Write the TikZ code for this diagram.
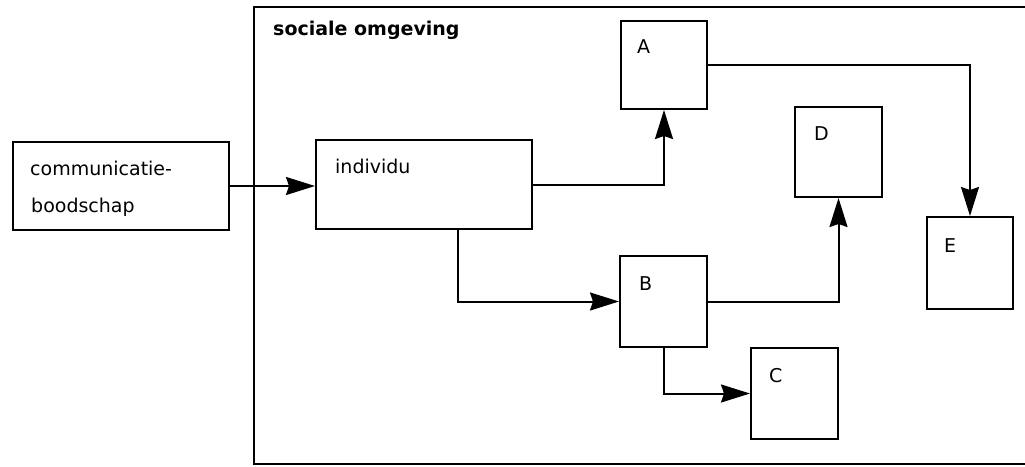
\documentclass[tikz,border=0pt]{standalone}
\usepackage{fontspec}
\setmainfont{DejaVu Sans}
\usetikzlibrary{arrows.meta}
\begin{document}
\begin{tikzpicture}[x=1pt,y=-1pt,
  box/.style={draw,line width=2pt,inner sep=0pt,anchor=north west},
  lbl/.style={anchor=base west,inner sep=0pt,font=\fontsize{19}{22}\selectfont},
  conn/.style={line width=2pt,-{Stealth[length=29pt,width=18pt,inset=3pt]}}]
\useasboundingbox (0,0) rectangle (1025,466);
\draw[line width=2pt] (1030,7) -- (254,7) -- (254,464) -- (1030,464);
\node[anchor=base west,inner sep=0pt,font=\fontsize{19}{22}\selectfont\bfseries] (title) at (273,35) {sociale omgeving};
\node[box,minimum width=216pt,minimum height=88pt] (comm) at (12,141) {};
\node[box,minimum width=216pt,minimum height=89pt] (ind) at (315,139) {};
\node[box,minimum width=86pt,minimum height=88pt] (A) at (620,20) {};
\node[box,minimum width=87pt,minimum height=91pt] (B) at (619,255) {};
\node[box,minimum width=87pt,minimum height=91pt] (C) at (750,347) {};
\node[box,minimum width=87pt,minimum height=90pt] (D) at (794,106) {};
\node[box,minimum width=86pt,minimum height=92pt] (E) at (926,216) {};
\node[lbl] (t1) at (30,175) {communicatie-};
\node[lbl] (t2) at (31,212) {boodschap};
\node[lbl] (t3) at (335,173) {individu};
\node[lbl] (tA) at (637,53) {A};
\node[lbl] (tB) at (639,290) {B};
\node[lbl] (tC) at (769,382) {C};
\node[lbl] (tD) at (814,140) {D};
\node[lbl] (tE) at (944,252) {E};
\coordinate (indb) at ([xshift=143pt]ind.south west);
\draw[conn] (comm.east) -- (comm.east -| ind.west);
\draw[conn] (ind.east) -| (A.south);
\draw[conn] (A.east) -| (E.north);
\draw[conn] (indb) |- (B.west);
\draw[conn] (B.east) -| (D.south);
\draw[conn] (B.south) |- (C.west);
\end{tikzpicture}
\end{document}
